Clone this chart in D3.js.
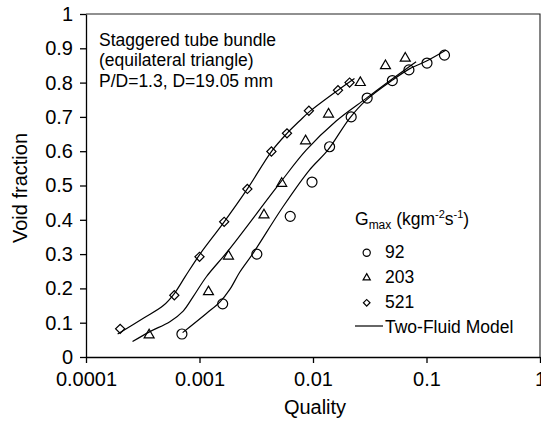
<!DOCTYPE html>
<html>
<head>
<meta charset="utf-8">
<script src="https://cdn.jsdelivr.net/npm/d3@7"></script>
<style>
    body { margin: 0; background: #fff; }
    svg text { font-family: "Liberation Sans", Arial, Helvetica, sans-serif; fill: #000; }
    .axis path, .axis line { stroke: #000; stroke-width: 1.3; }
    .axis text { font-size: 20px; }
</style>
</head>
<body>
<div id="chart" style="width:541px;height:421px;"></div>
<script>
// axis ticks
const qualityTicks = [0.0001, 0.001, 0.01, 0.1, 1];
const qualityTickLabels = ["0.0001", "0.001", "0.01", "0.1", "1"];
const voidTicks = [0, 0.1, 0.2, 0.3, 0.4, 0.5, 0.6, 0.7, 0.8, 0.9, 1];
const voidTickLabels = ["0", "0.1", "0.2", "0.3", "0.4", "0.5", "0.6", "0.7", "0.8", "0.9", "1"];

// measured points, G = 92
const g92Quality = [0.0007, 0.0016, 0.0032, 0.0063, 0.0098, 0.014, 0.0217, 0.030, 0.050, 0.070, 0.101, 0.144];
const g92Void = [0.067, 0.155, 0.30, 0.41, 0.51, 0.613, 0.70, 0.755, 0.806, 0.837, 0.857, 0.88];

// measured points, G = 203
const g203Quality = [0.00036, 0.0012, 0.0018, 0.0037, 0.0053, 0.0086, 0.0137, 0.0261, 0.0435, 0.065];
const g203Void = [0.064, 0.19, 0.294, 0.414, 0.506, 0.63, 0.708, 0.80, 0.849, 0.871];

// measured points, G = 521
const g521Quality = [0.0002, 0.0006, 0.001, 0.00165, 0.00264, 0.0043, 0.0059, 0.0092, 0.0166, 0.021];
const g521Void = [0.082, 0.18, 0.292, 0.394, 0.49, 0.599, 0.652, 0.718, 0.778, 0.80];

// two-fluid model curves
const model92Quality = [0.00071, 0.00115, 0.00151, 0.00185, 0.00226, 0.00296, 0.00544, 0.0093, 0.0135, 0.021, 0.0294, 0.0505, 0.0707, 0.099, 0.149];
const model92Void = [0.071, 0.127, 0.16, 0.197, 0.247, 0.302, 0.438, 0.545, 0.603, 0.696, 0.749, 0.808, 0.84, 0.862, 0.895];
const model203Quality = [0.000257, 0.000366, 0.000548, 0.000718, 0.00088, 0.00115, 0.00179, 0.00508, 0.0087, 0.016, 0.0294, 0.0505, 0.081];
const model203Void = [0.045, 0.074, 0.103, 0.134, 0.176, 0.234, 0.31, 0.506, 0.603, 0.688, 0.754, 0.812, 0.861];
const model521Quality = [0.00019, 0.00032, 0.00048, 0.0006, 0.00075, 0.001, 0.00165, 0.00264, 0.0043, 0.0059, 0.0076, 0.0092, 0.0166, 0.0232];
const model521Void = [0.067, 0.113, 0.15, 0.185, 0.235, 0.298, 0.394, 0.49, 0.599, 0.652, 0.688, 0.714, 0.778, 0.812];

const seriesNames = ["92", "203", "521"];
const seriesSymbols = ["circle", "triangle", "diamond"];
const noteLines = ["Staggered tube bundle", "(equilateral triangle)", "P/D=1.3, D=19.05 mm"];

class VoidVis {

    constructor(parentElement) {
        this.parentElement = parentElement;
        this.initVis();
    }

    initVis() {
        let vis = this;

        vis.margin = {top: 14, right: 1, bottom: 64, left: 86};
        vis.width = 541 - vis.margin.left - vis.margin.right;
        vis.height = 421 - vis.margin.top - vis.margin.bottom;

        vis.svg = d3.select("#" + vis.parentElement).append("svg")
            .attr("width", 541)
            .attr("height", 421)
            .append("g")
            .attr("transform", `translate(${vis.margin.left}, ${vis.margin.top})`);

        vis.xScale = d3.scaleLog()
            .domain([0.0001, 1])
            .range([0, vis.width]);

        vis.yScale = d3.scaleLinear()
            .domain([0, 1])
            .range([vis.height, 0]);

        vis.xAxis = d3.axisBottom(vis.xScale)
            .tickValues(qualityTicks)
            .tickFormat((d, i) => qualityTickLabels[i])
            .tickSize(6)
            .tickPadding(9)
            .tickSizeOuter(0);

        vis.yAxis = d3.axisLeft(vis.yScale)
            .tickValues(voidTicks)
            .tickFormat((d, i) => voidTickLabels[i])
            .tickSize(6)
            .tickPadding(7)
            .tickSizeOuter(0);

        // top and right frame
        vis.svg.append("path")
            .attr("d", `M0,0H${vis.width}V${vis.height}`)
            .attr("fill", "none")
            .attr("stroke", "#222")
            .attr("stroke-width", 1.1);

        vis.svg.append("g")
            .attr("class", "x-axis axis")
            .attr("transform", "translate(0," + vis.height + ")")
            .call(vis.xAxis);

        vis.svg.append("g")
            .attr("class", "y-axis axis")
            .call(vis.yAxis);

        // axis titles
        vis.svg.append("text")
            .attr("x", vis.width / 2 + 2)
            .attr("y", vis.height + 57)
            .attr("text-anchor", "middle")
            .style("font-size", "20px")
            .text("Quality");

        vis.svg.append("text")
            .attr("transform", `translate(${27 - vis.margin.left}, ${188 - vis.margin.top}) rotate(-90)`)
            .attr("text-anchor", "middle")
            .style("font-size", "20px")
            .text("Void fraction");

        // note
        vis.svg.append("text")
            .attr("x", 13)
            .attr("y", 45.5 - vis.margin.top)
            .style("font-size", "17.5px")
            .selectAll("tspan")
            .data(noteLines)
            .enter()
            .append("tspan")
            .attr("x", 13)
            .attr("dy", (d, i) => i === 0 ? 0 : 20.7)
            .text(d => d);

        this.wrangleData();
    }

    wrangleData() {
        let vis = this;

        vis.points = [
            g92Quality.map((q, i) => ({q: q, v: g92Void[i]})),
            g203Quality.map((q, i) => ({q: q, v: g203Void[i]})),
            g521Quality.map((q, i) => ({q: q, v: g521Void[i]}))
        ];
        vis.models = [
            model92Quality.map((q, i) => ({q: q, v: model92Void[i]})),
            model203Quality.map((q, i) => ({q: q, v: model203Void[i]})),
            model521Quality.map((q, i) => ({q: q, v: model521Void[i]}))
        ];

        vis.updateVis();
    }

    marker(sel, type, scale) {
        if (type === "circle") {
            sel.append("circle").attr("r", 5 * scale);
        } else if (type === "triangle") {
            sel.append("path").attr("d", d3.symbol(d3.symbolTriangle, 43 * scale * scale)());
        } else {
            sel.append("path")
                .attr("d", d3.symbol(d3.symbolSquare, 42 * scale * scale)())
                .attr("transform", "rotate(45)");
        }
        sel.selectAll("circle, path")
            .attr("fill", "none")
            .attr("stroke", "#000")
            .attr("stroke-width", 1.2);
    }

    updateVis() {
        let vis = this;

        let line = d3.line()
            .x(d => vis.xScale(d.q))
            .y(d => vis.yScale(d.v))
            .curve(d3.curveCatmullRom.alpha(0.5));

        vis.svg.selectAll(".model")
            .data(vis.models)
            .enter()
            .append("path")
            .attr("class", "model")
            .attr("d", line)
            .attr("fill", "none")
            .attr("stroke", "#000")
            .attr("stroke-width", 1.2);

        vis.points.forEach((pts, k) => {
            vis.svg.selectAll(".pt" + k)
                .data(pts)
                .enter()
                .append("g")
                .attr("class", "pt" + k)
                .attr("transform", d => `translate(${vis.xScale(d.q)},${vis.yScale(d.v)})`)
                .each(function() { vis.marker(d3.select(this), seriesSymbols[k], 1); });
        });

        // legend
        let lx = 355 - vis.margin.left;
        let ly = 225 - vis.margin.top;
        let title = vis.svg.append("text")
            .attr("x", lx)
            .attr("y", ly)
            .style("font-size", "17.5px");
        title.append("tspan").text("G");
        title.append("tspan").attr("dy", 4).style("font-size", "12px").text("max");
        title.append("tspan").attr("dy", -4).text(" (kgm");
        title.append("tspan").attr("dy", -7).style("font-size", "11px").text("-2");
        title.append("tspan").attr("dy", 7).text("s");
        title.append("tspan").attr("dy", -7).style("font-size", "11px").text("-1");
        title.append("tspan").attr("dy", 7).text(")");

        seriesNames.forEach((name, k) => {
            let base = ly + 33.3 + k * 25;
            let g = vis.svg.append("g")
                .attr("transform", `translate(${lx + 11.7},${base - 5.5})`);
            vis.marker(g, seriesSymbols[k], 0.72);
            vis.svg.append("text")
                .attr("x", lx + 30)
                .attr("y", base)
                .style("font-size", "17.5px")
                .text(name);
        });

        vis.svg.append("line")
            .attr("x1", lx)
            .attr("x2", lx + 28)
            .attr("y1", ly + 101)
            .attr("y2", ly + 101)
            .attr("stroke", "#000")
            .attr("stroke-width", 1.2);
        vis.svg.append("text")
            .attr("x", lx + 30)
            .attr("y", ly + 107.7)
            .style("font-size", "17.5px")
            .text("Two-Fluid Model");
    }
}

new VoidVis("chart");
</script>
</body>
</html>
